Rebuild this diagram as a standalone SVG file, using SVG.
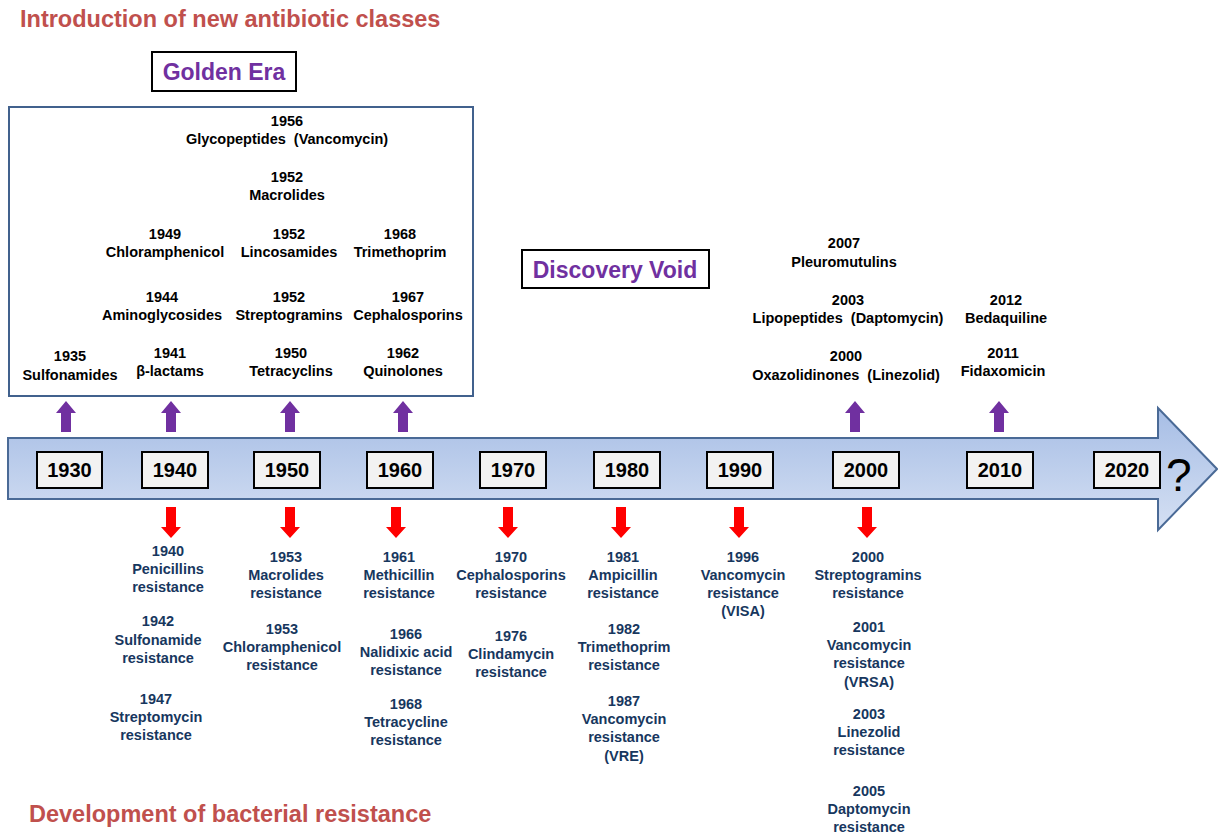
<svg xmlns="http://www.w3.org/2000/svg" width="1218" height="833" viewBox="0 0 1218 833">
<style>
text{font-family:"Liberation Sans",Arial,sans-serif;font-weight:bold;white-space:pre}
.h{font-size:23.5px;fill:#c0504d}
.era{font-size:23px;fill:#7030a0;text-anchor:middle}
.t{font-size:14.5px;fill:#000;text-anchor:middle}
.r{font-size:14.5px;fill:#17375e;text-anchor:middle}
.yr{font-size:20px;fill:#000;text-anchor:middle}
.yb{fill:#f2f2f2;stroke:#000;stroke-width:2}
</style>
<defs>
<linearGradient id="band" x1="0" y1="0" x2="0" y2="1">
<stop offset="0" stop-color="#a6bde5"/>
<stop offset="1" stop-color="#d5e0f3"/>
</linearGradient>
<path id="up" d="M0,0 L10,12 L5,12 L5,31 L-5,31 L-5,12 L-10,12 Z" fill="#7030a0"/>
<path id="dn" d="M-5,0 L5,0 L5,20 L10,20 L0,31 L-10,20 L-5,20 Z" fill="#ff0000"/>
</defs>
<rect width="1218" height="833" fill="#fff"/>

<g id="titles">
<text class="h" x="20" y="27">Introduction of new antibiotic classes</text>
<text class="h" x="29" y="822">Development of bacterial resistance</text>
</g>

<g id="golden-era">
<rect x="152" y="52" width="144" height="39" fill="#fff" stroke="#000" stroke-width="2"/>
<text class="era" x="224" y="80">Golden Era</text>
</g>

<g id="discovery-void">
<rect x="522" y="250" width="187" height="38" fill="#fff" stroke="#000" stroke-width="2"/>
<text class="era" x="615" y="278">Discovery Void</text>
</g>

<g id="golden-box">
<rect x="9" y="107" width="464" height="289" fill="#fff" stroke="#41618d" stroke-width="2"/>
<text class="t" x="287" y="126">1956</text><text class="t" x="287" y="144" xml:space="preserve">Glycopeptides  (Vancomycin)</text>
<text class="t" x="287" y="182">1952</text><text class="t" x="287" y="200">Macrolides</text>
<text class="t" x="165" y="239">1949</text><text class="t" x="165" y="257">Chloramphenicol</text>
<text class="t" x="289" y="239">1952</text><text class="t" x="289" y="257">Lincosamides</text>
<text class="t" x="400" y="239">1968</text><text class="t" x="400" y="257">Trimethoprim</text>
<text class="t" x="162" y="302">1944</text><text class="t" x="162" y="320">Aminoglycosides</text>
<text class="t" x="289" y="302">1952</text><text class="t" x="289" y="320">Streptogramins</text>
<text class="t" x="408" y="302">1967</text><text class="t" x="408" y="320">Cephalosporins</text>
<text class="t" x="70" y="361">1935</text><text class="t" x="70" y="380">Sulfonamides</text>
<text class="t" x="170" y="358">1941</text><text class="t" x="170" y="376">β-lactams</text>
<text class="t" x="291" y="358">1950</text><text class="t" x="291" y="376">Tetracyclins</text>
<text class="t" x="403" y="358">1962</text><text class="t" x="403" y="376">Quinolones</text>
</g>

<g id="modern-classes">
<text class="t" x="844" y="248">2007</text><text class="t" x="844" y="267">Pleuromutulins</text>
<text class="t" x="848" y="305">2003</text><text class="t" x="848" y="323" xml:space="preserve">Lipopeptides  (Daptomycin)</text>
<text class="t" x="846" y="361">2000</text><text class="t" x="846" y="380" xml:space="preserve">Oxazolidinones  (Linezolid)</text>
<text class="t" x="1006" y="305">2012</text><text class="t" x="1006" y="323">Bedaquiline</text>
<text class="t" x="1003" y="358">2011</text><text class="t" x="1003" y="376">Fidaxomicin</text>
</g>

<g id="connectors">
<use href="#up" x="66" y="401"/>
<use href="#up" x="171" y="401"/>
<use href="#up" x="290" y="401"/>
<use href="#up" x="403" y="401"/>
<use href="#up" x="855" y="401"/>
<use href="#up" x="999" y="401"/>
<use href="#dn" x="171" y="507"/>
<use href="#dn" x="290" y="507"/>
<use href="#dn" x="396" y="507"/>
<use href="#dn" x="508" y="507"/>
<use href="#dn" x="621" y="507"/>
<use href="#dn" x="739" y="507"/>
<use href="#dn" x="867" y="507"/>
</g>

<g id="timeline">
<path d="M8,438 H1158 V408 L1217,469 L1158,530 V499 H8 Z" fill="url(#band)" stroke="#4a6a96" stroke-width="2"/>
<rect class="yb" x="37" y="452" width="65" height="36"/><text class="yr" x="69.5" y="477">1930</text>
<rect class="yb" x="142" y="452" width="66" height="36"/><text class="yr" x="175" y="477">1940</text>
<rect class="yb" x="254" y="452" width="66" height="36"/><text class="yr" x="287" y="477">1950</text>
<rect class="yb" x="367" y="452" width="66" height="36"/><text class="yr" x="400" y="477">1960</text>
<rect class="yb" x="480" y="452" width="66" height="36"/><text class="yr" x="513" y="477">1970</text>
<rect class="yb" x="594" y="452" width="66" height="36"/><text class="yr" x="627" y="477">1980</text>
<rect class="yb" x="707" y="452" width="66" height="36"/><text class="yr" x="740" y="477">1990</text>
<rect class="yb" x="833" y="452" width="66" height="36"/><text class="yr" x="866" y="477">2000</text>
<rect class="yb" x="967" y="452" width="66" height="36"/><text class="yr" x="1000" y="477">2010</text>
<rect class="yb" x="1094" y="452" width="66" height="36"/><text class="yr" x="1127" y="477">2020</text>
<text x="1166" y="491" style="font-weight:normal;font-size:46px;fill:#000">?</text>
</g>

<g id="resistance">
<text class="r" x="168" y="556">1940</text><text class="r" x="168" y="574">Penicillins</text><text class="r" x="168" y="592">resistance</text>
<text class="r" x="158" y="626">1942</text><text class="r" x="158" y="645">Sulfonamide</text><text class="r" x="158" y="663">resistance</text>
<text class="r" x="156" y="704">1947</text><text class="r" x="156" y="722">Streptomycin</text><text class="r" x="156" y="740">resistance</text>
<text class="r" x="286" y="562">1953</text><text class="r" x="286" y="580">Macrolides</text><text class="r" x="286" y="598">resistance</text>
<text class="r" x="282" y="634">1953</text><text class="r" x="282" y="652">Chloramphenicol</text><text class="r" x="282" y="670">resistance</text>
<text class="r" x="399" y="562">1961</text><text class="r" x="399" y="580">Methicillin</text><text class="r" x="399" y="598">resistance</text>
<text class="r" x="406" y="639">1966</text><text class="r" x="406" y="657">Nalidixic acid</text><text class="r" x="406" y="675">resistance</text>
<text class="r" x="406" y="709">1968</text><text class="r" x="406" y="727">Tetracycline</text><text class="r" x="406" y="745">resistance</text>
<text class="r" x="511" y="562">1970</text><text class="r" x="511" y="580">Cephalosporins</text><text class="r" x="511" y="598">resistance</text>
<text class="r" x="511" y="641">1976</text><text class="r" x="511" y="659">Clindamycin</text><text class="r" x="511" y="677">resistance</text>
<text class="r" x="623" y="562">1981</text><text class="r" x="623" y="580">Ampicillin</text><text class="r" x="623" y="598">resistance</text>
<text class="r" x="624" y="634">1982</text><text class="r" x="624" y="652">Trimethoprim</text><text class="r" x="624" y="670">resistance</text>
<text class="r" x="624" y="706">1987</text><text class="r" x="624" y="724">Vancomycin</text><text class="r" x="624" y="742">resistance</text><text class="r" x="624" y="761">(VRE)</text>
<text class="r" x="743" y="562">1996</text><text class="r" x="743" y="580">Vancomycin</text><text class="r" x="743" y="598">resistance</text><text class="r" x="743" y="616">(VISA)</text>
<text class="r" x="868" y="562">2000</text><text class="r" x="868" y="580">Streptogramins</text><text class="r" x="868" y="598">resistance</text>
<text class="r" x="869" y="632">2001</text><text class="r" x="869" y="650">Vancomycin</text><text class="r" x="869" y="668">resistance</text><text class="r" x="869" y="687">(VRSA)</text>
<text class="r" x="869" y="719">2003</text><text class="r" x="869" y="737">Linezolid</text><text class="r" x="869" y="755">resistance</text>
<text class="r" x="869" y="796">2005</text><text class="r" x="869" y="814">Daptomycin</text><text class="r" x="869" y="832">resistance</text>
</g>
</svg>
